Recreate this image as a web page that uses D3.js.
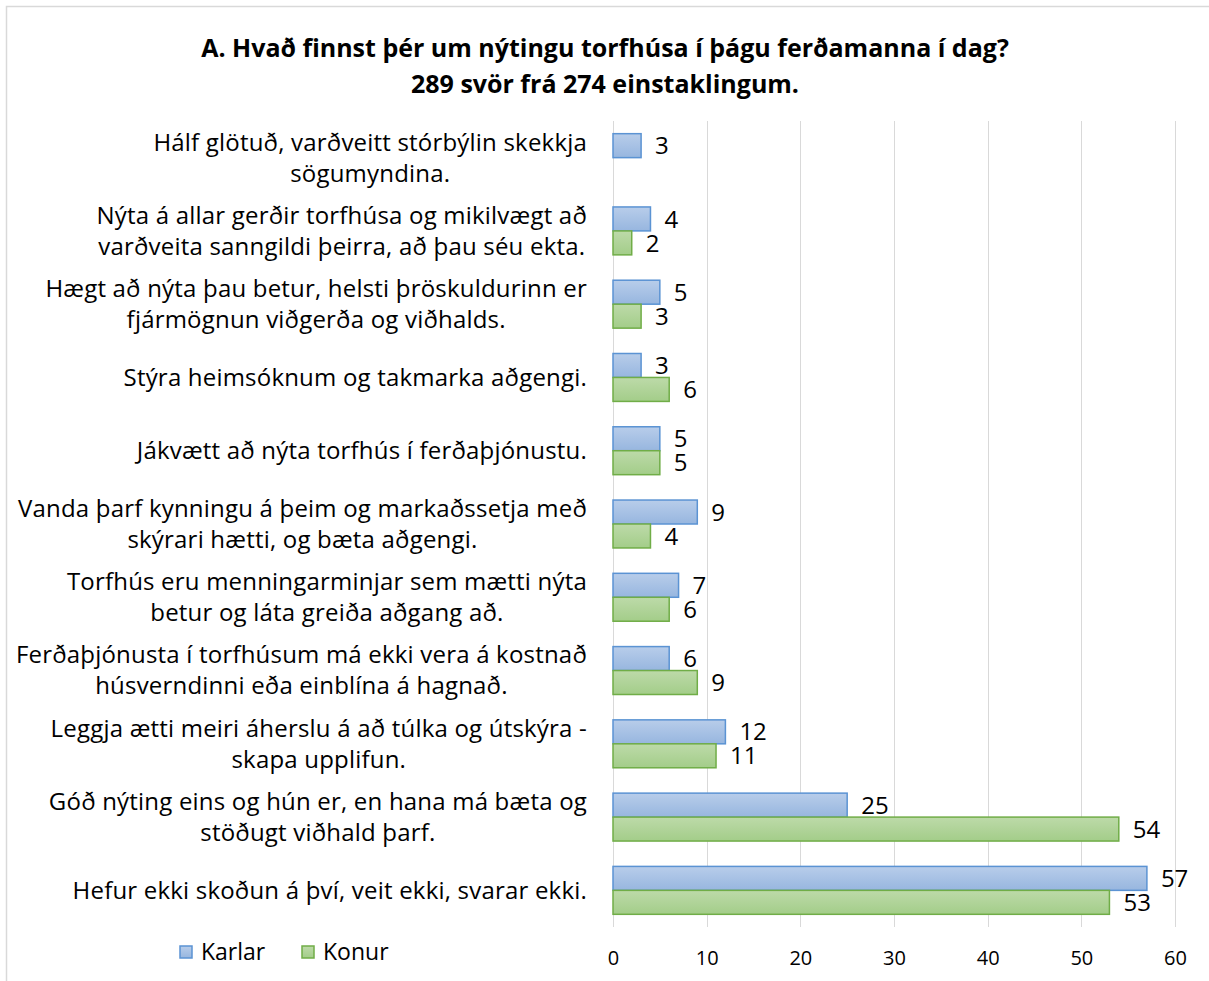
<!DOCTYPE html>
<meta charset="utf-8">
<style>
  body { margin: 0; background: #fff; }
  svg { font-family: "Open Sans", sans-serif; }
  .grid line { stroke: #d9d9d9; stroke-width: 1.5; shape-rendering: crispEdges; }
</style>
<body>
<script src="https://d3js.org/d3.v7.min.js"></script>
<script>

// categories, top to bottom (each line of a wrapped label is its own string)
var categories = [
  ["Hálf glötuð, varðveitt stórbýlin skekkja", "sögumyndina."],
  ["Nýta á allar gerðir torfhúsa og mikilvægt að", "varðveita sanngildi þeirra, að þau séu ekta."],
  ["Hægt að nýta þau betur, helsti þröskuldurinn er", "fjármögnun viðgerða og viðhalds."],
  ["Stýra heimsóknum og takmarka aðgengi."],
  ["Jákvætt að nýta torfhús í ferðaþjónustu."],
  ["Vanda þarf kynningu á þeim og markaðssetja með", "skýrari hætti, og bæta aðgengi."],
  ["Torfhús eru menningarminjar sem mætti nýta", "betur og láta greiða aðgang að."],
  ["Ferðaþjónusta í torfhúsum má ekki vera á kostnað", "húsverndinni eða einblína á hagnað."],
  ["Leggja ætti meiri áherslu á að túlka og útskýra -", "skapa upplifun."],
  ["Góð nýting eins og hún er, en hana má bæta og", "stöðugt viðhald þarf."],
  ["Hefur ekki skoðun á því, veit ekki, svarar ekki."]
];
var karlar = [3, 4, 5, 3, 5, 9, 7, 6, 12, 25, 57];
var konur  = [null, 2, 3, 6, 5, 4, 6, 9, 11, 54, 53];
var seriesNames = ["Karlar", "Konur"];
var xTicks = [0, 10, 20, 30, 40, 50, 60];
var titleLines = [
  "A. Hvað finnst þér um nýtingu torfhúsa í þágu ferðamanna í dag?",
  "289 svör frá 274 einstaklingum."
];

var W = 1209, H = 981;
var plot = {left: 613, right: 1175, top: 121, bottom: 927};

var svg = d3.select("body").append("svg")
    .attr("width", W)
    .attr("height", H);

// gradients
var defs = svg.append("defs");
function grad(id, c1, c2) {
  var g = defs.append("linearGradient").attr("id", id)
      .attr("x1", 0).attr("y1", 0).attr("x2", 0).attr("y2", 1);
  g.append("stop").attr("offset", "0%").attr("stop-color", c1);
  g.append("stop").attr("offset", "100%").attr("stop-color", c2);
}
grad("gBlue", "#b8cdea", "#97b6df");
grad("gGreen", "#bddaa9", "#a3cd89");
var fills = ["url(#gBlue)", "url(#gGreen)"];
var strokes = ["#5b93d3", "#70ad47"];

// chart border
svg.append("rect")
    .attr("x", 6.5).attr("y", 6.5)
    .attr("width", W + 20).attr("height", H + 20)
    .attr("fill", "none").attr("stroke", "#d9d9d9").attr("stroke-width", 1.5);

// title
svg.append("g").selectAll("text")
    .data(titleLines)
  .enter().append("text")
    .attr("x", 605)
    .attr("y", function(d, i) { return 57 + i * 36; })
    .attr("text-anchor", "middle")
    .style("font-size", "25px")
    .style("font-weight", "bold")
    .text(function(d) { return d; });

var x = d3.scaleLinear().domain([0, 60]).range([plot.left, plot.right]);
var y = d3.scaleBand().domain(d3.range(categories.length)).range([plot.top, plot.bottom]);
var barH = y.bandwidth() * 0.327;

// gridlines
svg.append("g").attr("class", "grid")
  .selectAll("line")
    .data(xTicks)
  .enter().append("line")
    .attr("x1", function(d) { return Math.round(x(d)) + 0.5; })
    .attr("x2", function(d) { return Math.round(x(d)) + 0.5; })
    .attr("y1", plot.top)
    .attr("y2", plot.bottom);

// x axis labels
var xAxis = d3.axisBottom(x).tickValues(xTicks).tickSize(0).tickPadding(0);
var ax = svg.append("g")
    .attr("transform", "translate(0," + 965 + ")")
    .call(xAxis);
ax.select(".domain").remove();
ax.selectAll("text")
    .attr("dy", 0)
    .attr("fill", "#000")
    .style("font-family", "'Open Sans', sans-serif")
    .style("font-size", "20px");

// bars
var series = [karlar, konur];
series.forEach(function(vals, s) {
  var g = svg.append("g");
  var data = vals.map(function(v, i) { return {v: v, i: i}; })
      .filter(function(d) { return d.v != null; });
  g.selectAll("rect")
      .data(data)
    .enter().append("rect")
      .attr("x", x(0))
      .attr("y", function(d) { return y(d.i) + y.bandwidth() / 2 - (s === 0 ? barH : 0); })
      .attr("width", function(d) { return x(d.v) - x(0); })
      .attr("height", barH)
      .attr("fill", fills[s])
      .attr("stroke", strokes[s])
      .attr("stroke-width", 1.5);
  g.selectAll("text")
      .data(data)
    .enter().append("text")
      .attr("x", function(d) { return x(d.v) + 14; })
      .attr("y", function(d) { return y(d.i) + y.bandwidth() / 2 + (s === 0 ? -barH / 2 : barH / 2); })
      .attr("dy", "0.36em")
      .style("font-size", "24px")
      .text(function(d) { return d.v; });
});

// category labels: block right-aligned, lines centered within block
var labelRight = 587, lineH = 31;
var lg = svg.append("g");
categories.forEach(function(lines, i) {
  var cy = y(i) + y.bandwidth() / 2;
  var t = lg.append("g");
  var texts = t.selectAll("text")
      .data(lines)
    .enter().append("text")
      .attr("y", function(d, j) { return cy + (j - (lines.length - 1) / 2) * lineH; })
      .attr("dy", "0.35em")
      .attr("text-anchor", "middle")
      .style("font-size", "24px")
      .style("letter-spacing", "0.2px")
      .text(function(d) { return d; });
  var maxW = 0;
  texts.each(function() { maxW = Math.max(maxW, this.getComputedTextLength()); });
  texts.attr("x", labelRight - maxW / 2);
});

// legend
var leg = svg.append("g");
var legX = [180, 302];
seriesNames.forEach(function(name, s) {
  leg.append("rect")
      .attr("x", legX[s]).attr("y", 946)
      .attr("width", 12).attr("height", 12)
      .attr("fill", fills[s]).attr("stroke", strokes[s]).attr("stroke-width", 1.5);
  leg.append("text")
      .attr("x", legX[s] + 21).attr("y", 952)
      .attr("dy", "0.36em")
      .style("font-size", "23px")
      .text(name);
});

</script>
